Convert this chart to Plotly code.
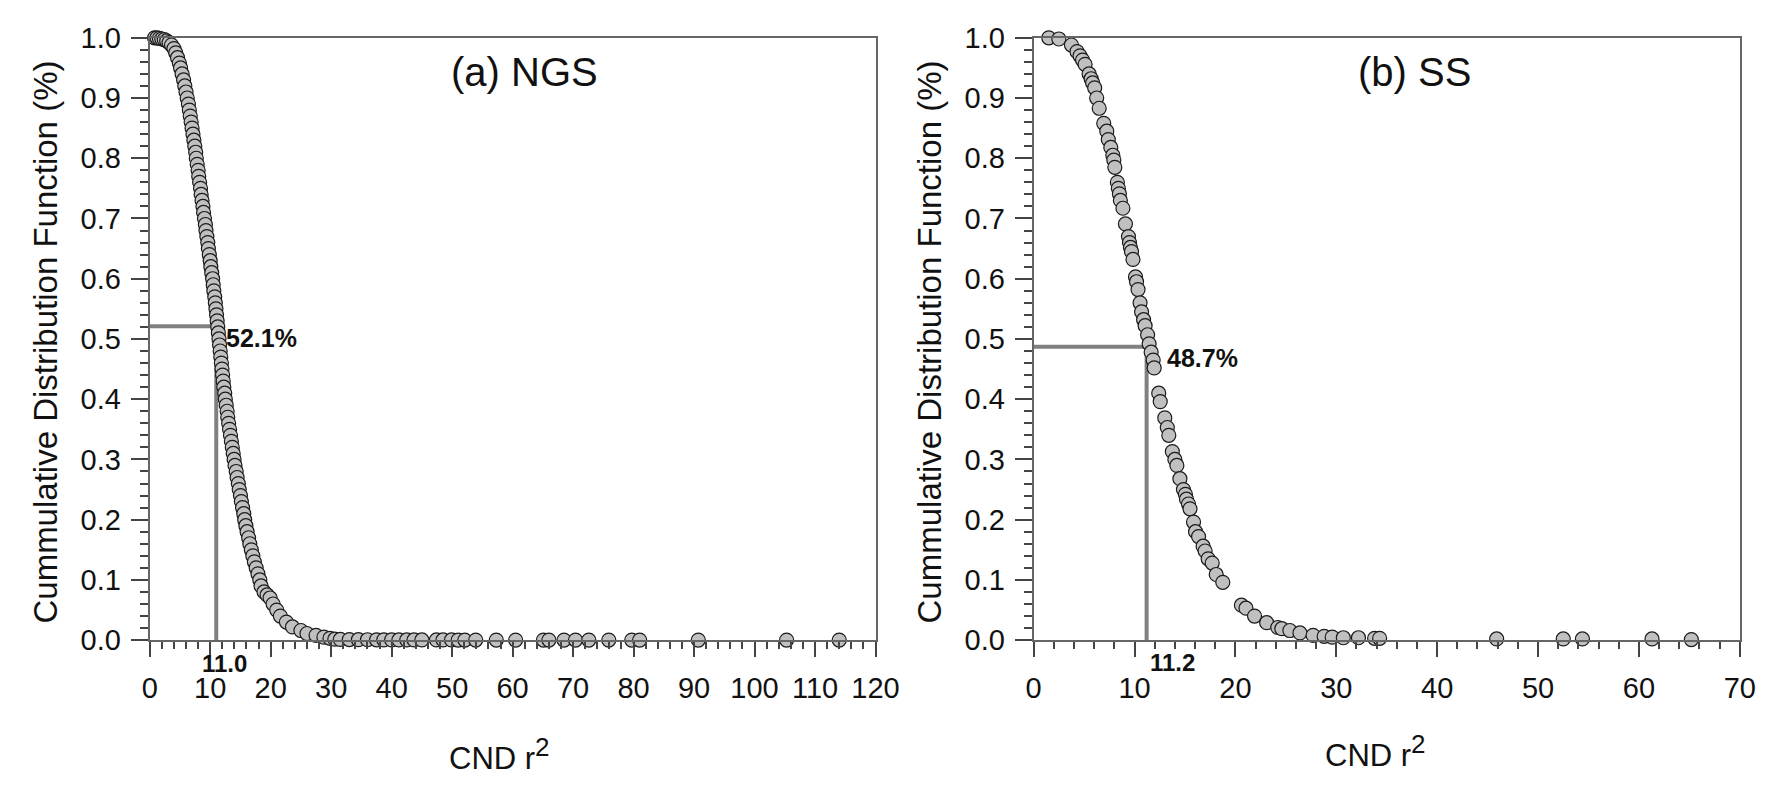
import plotly.graph_objects as go

# ---------------- data ----------------
ngs_x = [0.8, 1.2, 1.6, 2.0, 2.4, 2.8, 3.2, 3.6, 4.0, 4.3, 4.6, 4.9, 5.1, 5.35, 5.6, 5.8, 6.0, 6.2,
         6.4, 6.55, 6.7, 6.85, 7.0, 7.15, 7.3, 7.45, 7.6, 7.7, 7.85, 8.0, 8.1, 8.25, 8.4, 8.5, 8.65,
         8.8, 8.9, 9.05, 9.2, 9.3, 9.45, 9.6, 9.7, 9.85, 10.0, 10.1, 10.25, 10.4, 10.5, 10.6, 10.75,
         10.85, 10.95, 11.05, 11.15, 11.25, 11.35, 11.45, 11.55, 11.65, 11.75, 11.85, 11.95, 12.05,
         12.15, 12.25, 12.4, 12.5, 12.65, 12.8, 12.9, 13.05, 13.2, 13.35, 13.5, 13.65, 13.8, 13.95,
         14.1, 14.3, 14.45, 14.65, 14.8, 15.0, 15.15, 15.35, 15.55, 15.7, 15.9, 16.1, 16.35, 16.55,
         16.8, 17.05, 17.3, 17.6, 17.9, 18.2, 18.4, 18.9, 19.4, 19.9, 20.4, 21.0, 21.6, 22.6, 23.6,
         25.0, 26.0, 27.5, 28.8, 29.8, 30.6, 31.5, 33.0, 34.5, 36.0, 37.5, 38.7, 40.0, 41.2, 42.5,
         43.7, 45.0, 47.4, 48.5, 49.9, 51.0, 52.1, 53.9, 57.3, 60.5, 65.1, 66.0, 68.5, 70.4, 72.6,
         75.9, 79.7, 81.0, 90.7, 105.3, 114.0]
ngs_y = [1.0, 1.0, 0.999, 0.998, 0.997, 0.995, 0.992, 0.988, 0.982, 0.975, 0.967, 0.958, 0.95, 0.94,
         0.93, 0.92, 0.91, 0.90, 0.89, 0.88, 0.87, 0.86, 0.85, 0.84, 0.83, 0.82, 0.81, 0.80, 0.79,
         0.78, 0.77, 0.76, 0.75, 0.74, 0.73, 0.72, 0.71, 0.70, 0.69, 0.68, 0.67, 0.66, 0.65, 0.64,
         0.63, 0.62, 0.61, 0.60, 0.59, 0.58, 0.57, 0.56, 0.55, 0.54, 0.53, 0.52, 0.51, 0.50, 0.49,
         0.48, 0.47, 0.46, 0.45, 0.44, 0.43, 0.42, 0.41, 0.40, 0.39, 0.38, 0.37, 0.36, 0.35, 0.34,
         0.33, 0.32, 0.31, 0.30, 0.29, 0.28, 0.27, 0.26, 0.25, 0.24, 0.23, 0.22, 0.21, 0.20, 0.19,
         0.18, 0.17, 0.16, 0.15, 0.14, 0.13, 0.12, 0.11, 0.10, 0.09, 0.08, 0.075, 0.07, 0.06, 0.05,
         0.04, 0.03, 0.022, 0.016, 0.011, 0.008, 0.005, 0.003, 0.0016, 0.0012, 0.001, 0.0008,
         0.0007, 0.0006, 0.0005, 0.0005, 0.0004, 0.0004, 0.0004, 0.0003, 0.0003, 0.0003, 0.0003,
         0.0002, 0.0002, 0.0002, 0.0002, 0.0002, 0.0001, 0.0001, 0.0001, 0.0001, 0.0001, 0.0001,
         0.0001, 0.0001, 0.0001, 0.0001, 0.0001, 0.0]

ss_x = [1.5, 2.5, 3.75, 4.3, 4.6, 4.85, 5.1, 5.5, 5.7, 5.85, 6.05, 6.25, 6.5, 6.95, 7.25, 7.4, 7.65,
        7.85, 7.95, 8.05, 8.3, 8.4, 8.5, 8.6, 8.85, 9.1, 9.4, 9.5, 9.6, 9.7, 9.85, 10.1, 10.2, 10.35,
        10.55, 10.7, 10.9, 11.05, 11.3, 11.45, 11.65, 11.85, 11.95, 12.4, 12.55, 13.0, 13.25, 13.4,
        13.75, 14.0, 14.2, 14.5, 14.85, 15.05, 15.15, 15.35, 15.5, 15.85, 16.05, 16.35, 16.8, 17.0,
        17.3, 17.7, 18.1, 18.75, 20.6, 21.05, 21.9, 23.1, 24.2, 24.6, 25.4, 26.4, 27.7, 28.8, 29.6,
        30.7, 32.2, 33.8, 34.3, 45.9, 52.5, 54.4, 61.3, 65.2]
ss_y = [1.0, 0.998, 0.988, 0.977, 0.97, 0.963, 0.956, 0.94, 0.932, 0.925, 0.917, 0.9, 0.883, 0.858,
        0.845, 0.831, 0.818, 0.805, 0.797, 0.785, 0.76, 0.75, 0.741, 0.73, 0.717, 0.691, 0.67, 0.66,
        0.652, 0.645, 0.632, 0.603, 0.595, 0.582, 0.56, 0.545, 0.532, 0.522, 0.507, 0.492, 0.478,
        0.465, 0.452, 0.41, 0.396, 0.369, 0.353, 0.34, 0.313, 0.3, 0.29, 0.268, 0.25, 0.242, 0.234,
        0.226, 0.218, 0.196, 0.18, 0.172, 0.156, 0.148, 0.135, 0.128, 0.109, 0.096, 0.058, 0.053,
        0.04, 0.029, 0.021, 0.019, 0.016, 0.012, 0.008, 0.0064, 0.005, 0.004, 0.004, 0.003, 0.003,
        0.002, 0.002, 0.002, 0.002, 0.001]

ngs_median_x, ngs_median_y = 11.0, 0.521
ss_median_x, ss_median_y = 11.2, 0.487

ngs_xticks = list(range(0, 121, 10))
ss_xticks = list(range(0, 71, 10))
yticks = [round(0.1 * i, 1) for i in range(11)]

panel_labels = ["(a) NGS", "(b) SS"]
y_title = "Cummulative Distribution Function (%)"
x_title = "CND r<sup><span style='font-size:26px'>2</span></sup>"

# ---------------- figure ----------------
W, H = 1790, 790
FONT = "Liberation Sans, Arial, sans-serif"

fig = go.Figure()

line_style = dict(color="#808080", width=4)
marker_style = dict(symbol="circle", size=14, color="#c0c0c0",
                    line=dict(color="#1a1a1a", width=1.2))

fig.add_trace(go.Scatter(x=[0, ngs_median_x, ngs_median_x], y=[ngs_median_y, ngs_median_y, 0],
                         mode="lines", line=line_style, xaxis="x", yaxis="y",
                         showlegend=False, hoverinfo="skip", cliponaxis=False))
fig.add_trace(go.Scatter(x=ngs_x, y=ngs_y, mode="markers", marker=marker_style,
                         xaxis="x", yaxis="y", showlegend=False, cliponaxis=False))
fig.add_trace(go.Scatter(x=[0, ss_median_x, ss_median_x], y=[ss_median_y, ss_median_y, 0],
                         mode="lines", line=line_style, xaxis="x2", yaxis="y2",
                         showlegend=False, hoverinfo="skip", cliponaxis=False))
fig.add_trace(go.Scatter(x=ss_x, y=ss_y, mode="markers", marker=marker_style,
                         xaxis="x2", yaxis="y2", showlegend=False, cliponaxis=False))


def px_x(p):
    return p / W


def px_y(p):
    return 1 - p / H


tickfont = dict(family=FONT, size=29, color="#111111")
common = dict(showline=True, linecolor="#666666", linewidth=2, mirror=True,
              ticks="outside", tickwidth=1.5, tickcolor="#444444",
              showgrid=False, zeroline=False, tickfont=tickfont)
minor_x = dict(ticks="outside", ticklen=7, dtick=2, tickwidth=1.5, tickcolor="#444444")
minor_y = dict(ticks="outside", ticklen=8, dtick=0.02, tickwidth=1.5, tickcolor="#444444")

yd = [px_y(650.5), px_y(22.7)]

fig.update_layout(
    width=W, height=H,
    margin=dict(l=0, r=0, t=0, b=0),
    paper_bgcolor="white", plot_bgcolor="white",
    xaxis=dict(domain=[px_x(144.3), px_x(883.3)], range=[0, 120], tickvals=ngs_xticks,
               ticklen=15, ticklabelstandoff=6, minor=minor_x, anchor="y", **common),
    yaxis=dict(domain=yd, range=[0, 1], tickvals=yticks, tickformat=".1f",
               ticklen=17, ticklabelstandoff=4, minor=minor_y, anchor="x", **common),
    xaxis2=dict(domain=[px_x(1044.3), px_x(1763.3)], range=[0, 70], tickvals=ss_xticks,
                ticklen=15, ticklabelstandoff=6, minor=minor_x, anchor="y2", **common),
    yaxis2=dict(domain=yd, range=[0, 1], tickvals=yticks, tickformat=".1f",
                ticklen=17, ticklabelstandoff=4, minor=minor_y, anchor="x2", **common),
)


def ann(text, x, y, size, bold=False, angle=0):
    fig.add_annotation(text=f"<b>{text}</b>" if bold else text,
                       x=px_x(x), y=px_y(y), xref="paper", yref="paper",
                       xanchor="center", yanchor="middle", showarrow=False,
                       textangle=angle, font=dict(family=FONT, size=size, color="#111111"))


ann(panel_labels[0], 526, 58, 40)
ann(panel_labels[1], 1432, 58, 40)
ann(y_title, 38, 340, 33, angle=-90)
ann(y_title, 938, 340, 33, angle=-90)
ann(x_title, 500, 769, 31)
ann(x_title, 1392, 766, 31)
ann(f"{ngs_median_y * 100:.1f}%", 258, 336, 25, bold=True)
ann(f"{ss_median_y * 100:.1f}%", 1216, 356, 25, bold=True)
ann(f"{ngs_median_x:.1f}", 220, 675, 24, bold=True)
ann(f"{ss_median_x:.1f}", 1186, 674, 24, bold=True)

fig.write_html("out.html")
